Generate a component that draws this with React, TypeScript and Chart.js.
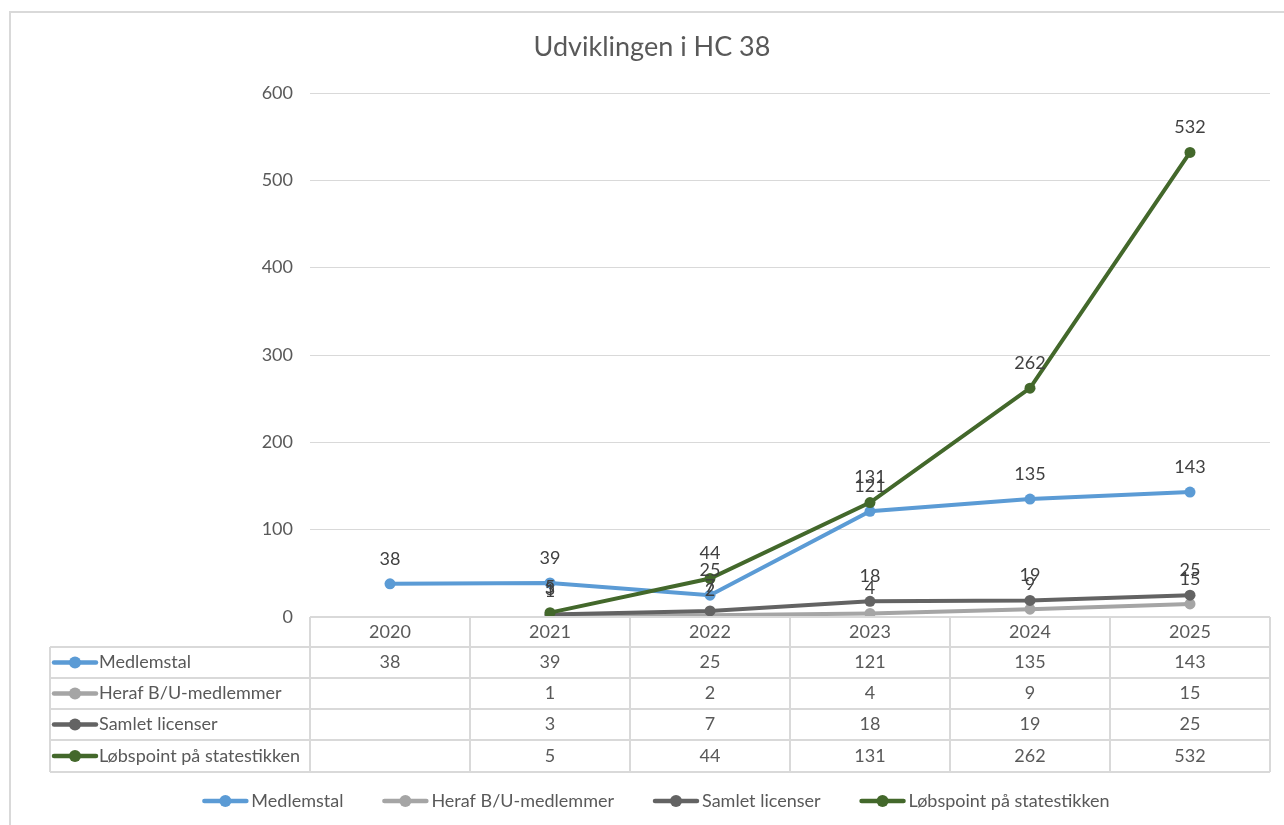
import { useEffect, useRef } from 'react';
import { Chart, registerables } from 'chart.js';

Chart.register(...registerables);

const years = ['2020', '2021', '2022', '2023', '2024', '2025'];
const medlemstal = [38, 39, 25, 121, 135, 143];
const herafBU = [null, 1, 2, 4, 9, 15];
const samletLicenser = [null, 3, 7, 18, 19, 25];
const lobspoint = [null, 5, 44, 131, 262, 532];
const seriesNames = ['Medlemstal', 'Heraf B/U-medlemmer', 'Samlet licenser', 'Løbspoint på statestikken'];
const seriesColors = ['#5B9BD5', '#A5A5A5', '#636363', '#43682B'];
const chartTitle = 'Udviklingen i HC 38';
const yMin = 0;
const yMax = 600;
const yStep = 100;

const FONT = 'Lato, "Noto Sans", sans-serif';
const FS = 18;
const TEXT = '#595959';
const LINE = '#d9d9d9';

function drawKey(ctx: CanvasRenderingContext2D, x: number, y: number, w: number, color: string) {
  ctx.save();
  ctx.strokeStyle = color;
  ctx.lineWidth = 4.5;
  ctx.lineCap = 'round';
  ctx.beginPath();
  ctx.moveTo(x + 2, y);
  ctx.lineTo(x + w - 2, y);
  ctx.stroke();
  ctx.fillStyle = color;
  ctx.beginPath();
  ctx.arc(x + w / 2, y, 6, 0, Math.PI * 2);
  ctx.fill();
  ctx.restore();
}

const decorPlugin = {
  id: 'decor',
  beforeDraw(chart: any) {
    const ctx = chart.ctx as CanvasRenderingContext2D;
    ctx.save();
    ctx.fillStyle = '#ffffff';
    ctx.fillRect(0, 0, chart.width, chart.height);
    ctx.strokeStyle = LINE;
    ctx.lineWidth = 2;
    ctx.strokeRect(10, 12, chart.width + 20, chart.height + 20);
    ctx.fillStyle = TEXT;
    ctx.font = `27px ${FONT}`;
    ctx.textAlign = 'center';
    ctx.textBaseline = 'middle';
    ctx.fillText(chartTitle, 652, 47);
    ctx.restore();
  },
  afterDatasetsDraw(chart: any) {
    const ctx = chart.ctx as CanvasRenderingContext2D;
    ctx.save();
    ctx.font = `${FS}px ${FONT}`;
    ctx.fillStyle = '#404040';
    ctx.textAlign = 'center';
    ctx.textBaseline = 'middle';
    chart.data.datasets.forEach((ds: any, di: number) => {
      const meta = chart.getDatasetMeta(di);
      meta.data.forEach((pt: any, i: number) => {
        const v = ds.data[i];
        if (v === null || v === undefined) return;
        ctx.fillText(String(v), pt.x, pt.y - 25);
      });
    });
    ctx.restore();
  },
  afterDraw(chart: any) {
    const ctx = chart.ctx as CanvasRenderingContext2D;
    const area = chart.chartArea;
    const xs = chart.scales.x;
    const n = years.length;
    const binW = (area.right - area.left) / n;
    const edges: number[] = [];
    for (let i = 0; i <= n; i++) edges.push(area.left + i * binW);
    const rows = [area.bottom, 647, 678, 709, 740, 772];
    const leftX = 50;
    ctx.save();
    ctx.strokeStyle = LINE;
    ctx.lineWidth = 2;
    ctx.beginPath();
    edges.forEach((ex) => {
      ctx.moveTo(ex, rows[0]);
      ctx.lineTo(ex, rows[rows.length - 1]);
    });
    ctx.moveTo(leftX, rows[1]);
    ctx.lineTo(leftX, rows[rows.length - 1]);
    ctx.moveTo(area.left, rows[0]);
    ctx.lineTo(area.right, rows[0]);
    for (let r = 1; r < rows.length; r++) {
      ctx.moveTo(leftX, rows[r]);
      ctx.lineTo(area.right, rows[r]);
    }
    ctx.stroke();

    ctx.font = `${FS}px ${FONT}`;
    ctx.fillStyle = TEXT;
    ctx.textAlign = 'center';
    ctx.textBaseline = 'middle';
    years.forEach((y, i) => {
      ctx.fillText(y, xs.getPixelForValue(i), (rows[0] + rows[1]) / 2);
    });
    chart.data.datasets.forEach((ds: any, di: number) => {
      const cy = (rows[di + 1] + rows[di + 2]) / 2;
      ds.data.forEach((v: any, i: number) => {
        if (v === null || v === undefined) return;
        ctx.textAlign = 'center';
        ctx.fillText(String(v), xs.getPixelForValue(i), cy);
      });
      drawKey(ctx, leftX + 2, cy, 46, seriesColors[di]);
      ctx.textAlign = 'left';
      ctx.fillText(seriesNames[di], leftX + 49, cy);
    });

    const keyW = 46;
    const gapKey = 3;
    const gapItem = 39;
    const widths = seriesNames.map((s) => keyW + gapKey + ctx.measureText(s).width);
    const total = widths.reduce((a, b) => a + b, 0) + gapItem * (seriesNames.length - 1);
    let lx = 656 - total / 2;
    const ly = 801;
    seriesNames.forEach((s, i) => {
      drawKey(ctx, lx, ly, keyW, seriesColors[i]);
      ctx.textAlign = 'left';
      ctx.fillStyle = TEXT;
      ctx.fillText(s, lx + keyW + gapKey, ly);
      lx += widths[i] + gapItem;
    });
    ctx.restore();
  },
};

export default function App() {
  const ref = useRef<HTMLCanvasElement | null>(null);
  useEffect(() => {
    document.body.style.margin = '0';
    if (!ref.current) return;
    const seriesData = [medlemstal, herafBU, samletLicenser, lobspoint];
    const chart = new Chart(ref.current, {
      type: 'line',
      data: {
        labels: years,
        datasets: seriesData.map((d, i) => ({
          label: seriesNames[i],
          data: d,
          borderColor: seriesColors[i],
          backgroundColor: seriesColors[i],
          pointBackgroundColor: seriesColors[i],
          pointBorderColor: seriesColors[i],
          borderWidth: 4,
          pointRadius: 5.5,
          pointBorderWidth: 0,
          tension: 0,
          order: seriesData.length - i,
        })),
      },
      options: {
        responsive: false,
        animation: false,
        layout: { autoPadding: false, padding: { left: 0, top: 93, right: 14, bottom: 208 } },
        plugins: { legend: { display: false }, title: { display: false }, tooltip: { enabled: false } },
        scales: {
          x: { type: 'category', display: false, offset: true },
          y: {
            min: yMin,
            max: yMax,
            ticks: { stepSize: yStep, color: TEXT, font: { size: FS, family: FONT }, padding: 17 },
            grid: { color: LINE, lineWidth: 1, drawTicks: false },
            border: { display: false },
            afterFit: (scale: any) => { scale.width = 310; },
          },
        },
      },
      plugins: [decorPlugin],
    });
    return () => chart.destroy();
  }, []);
  return (
    <div style={{ width: 1284, height: 825 }}>
      <canvas ref={ref} width={1284} height={825} style={{ display: 'block' }} />
    </div>
  );
}
